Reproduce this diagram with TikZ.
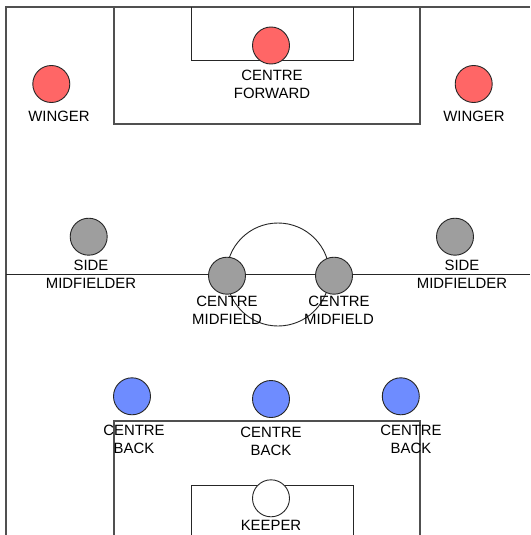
\documentclass[tikz,border=0pt]{standalone}
\usepackage{fontspec}
\setmainfont{Liberation Sans}
\definecolor{fwd}{RGB}{255,102,102}
\definecolor{mid}{RGB}{158,158,158}
\definecolor{def}{RGB}{110,140,255}
\definecolor{pitchline}{RGB}{80,80,80}
\begin{document}
\begin{tikzpicture}[x=1pt,y=-1pt,
  player/.style={circle,draw=black!85,line width=0.9pt,minimum size=37pt,inner sep=0pt},
  lbl/.style={align=center,inner sep=0pt,font=\fontsize{14.9}{18}\selectfont,text=black},
  border/.style={draw=pitchline,line width=1.4pt},
  box/.style={draw=black!85,line width=0.9pt}]
\useasboundingbox (0,0) rectangle (530,535);
\fill[white] (0,0) rectangle (530,535);
% pitch
\draw[border] (6,535) -- (6,7) -- (530,7);
\draw[border] (114,7) -- (114,124) -- (420,124) -- (420,7);
\draw[box] (191,7) -- (191,60) -- (353,60) -- (353,7);
\draw[box] (6,274) -- (530,274);
\draw[box] (278,274.5) circle[radius=51.5];
\draw[border] (114,535) -- (114,421) -- (420,421) -- (420,535);
\draw[box] (191,535) -- (191,485) -- (353,485) -- (353,535);
% forwards
\node[player,fill=fwd] (cf) at (271,45.5) {};
\node[player,fill=fwd] (lw) at (51.3,84) {};
\node[player,fill=fwd] (rw) at (473.7,84) {};
% midfield
\node[player,fill=mid] (lsm) at (88.7,236.7) {};
\node[player,fill=mid] (rsm) at (455,236.7) {};
\node[player,fill=mid] (lcm) at (227,275.7) {};
\node[player,fill=mid] (rcm) at (334,275.7) {};
% defence
\node[player,fill=def] (lcb) at (132,396.3) {};
\node[player,fill=def] (mcb) at (271,399) {};
\node[player,fill=def] (rcb) at (400.8,396.3) {};
\node[player,fill=white] (gk) at (271,498.3) {};
% labels
\node[lbl] (cfl) at (272,84) {CENTRE\\FORWARD};
\node[lbl] (lwl) at (59,116.5) {WINGER};
\node[lbl] (rwl) at (474,116.5) {WINGER};
\node[lbl] (lsml) at (91,274) {SIDE\\MIDFIELDER};
\node[lbl] (rsml) at (462,274) {SIDE\\MIDFIELDER};
\node[lbl] (lcml) at (227,310.5) {CENTRE\\MIDFIELD};
\node[lbl] (rcml) at (339,310.5) {CENTRE\\MIDFIELD};
\node[lbl] (lcbl) at (134,439) {CENTRE\\BACK};
\node[lbl] (mcbl) at (271,441.7) {CENTRE\\BACK};
\node[lbl] (rcbl) at (411,439) {CENTRE\\BACK};
\node[lbl] (gkl) at (271,525) {KEEPER};
\end{tikzpicture}
\end{document}
